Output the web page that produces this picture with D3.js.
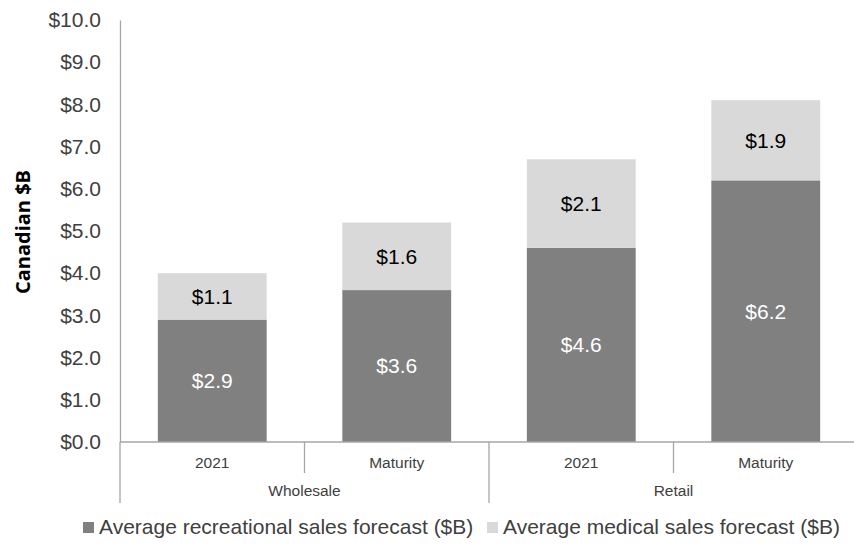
<!DOCTYPE html>
<html>
<head>
<meta charset="utf-8">
<script src="https://cdn.jsdelivr.net/npm/d3@7"></script>
<style>
  body { margin: 0; background: #fff; }
  svg { display: block; }
</style>
</head>
<body>
<svg id="chart" width="854" height="546"></svg>
<script>
// Forecast data (Canadian $B)
const groups = ["Wholesale", "Retail"];
const periods = ["2021", "Maturity"];
const categories = ["Wholesale|2021", "Wholesale|Maturity", "Retail|2021", "Retail|Maturity"];
const recreational = [2.9, 3.6, 4.6, 6.2];
const medical = [1.1, 1.6, 2.1, 1.9];
const seriesNames = ["Average recreational sales forecast ($B)", "Average medical sales forecast ($B)"];
const yTicks = [0, 1, 2, 3, 4, 5, 6, 7, 8, 9, 10];

const colors = ["#808080", "#d9d9d9"];
const font = "'Liberation Sans', Arial, sans-serif";
const textColor = "#404040";

const svg = d3.select("#chart");
const plotLeft = 120, plotRight = 858, plotTop = 20, plotBottom = 442;

const x = d3.scaleBand().domain(categories).range([plotLeft, plotRight]).paddingInner(0).paddingOuter(0);
const y = d3.scaleLinear().domain([0, 10]).range([plotBottom, plotTop]);
const barW = x.bandwidth() * 0.59;

const rows = categories.map((c, i) => ({ cat: c, recreational: recreational[i], medical: medical[i] }));
const stack = d3.stack().keys(["recreational", "medical"])(rows);

// Bars with value labels
stack.forEach((layer, li) => {
  svg.append("g").selectAll("rect").data(layer).join("rect")
    .attr("x", d => x(d.data.cat) + (x.bandwidth() - barW) / 2)
    .attr("width", barW)
    .attr("y", d => y(d[1]))
    .attr("height", d => y(d[0]) - y(d[1]))
    .attr("fill", colors[li]);
  svg.append("g").selectAll("text").data(layer).join("text")
    .attr("x", d => x(d.data.cat) + x.bandwidth() / 2)
    .attr("y", d => (y(d[0]) + y(d[1])) / 2)
    .attr("dy", "0.35em")
    .attr("text-anchor", "middle")
    .attr("font-family", font)
    .attr("font-size", 21)
    .attr("fill", li === 0 ? "#ffffff" : "#000000")
    .text(d => "$" + (d[1] - d[0]).toFixed(1));
});

// Y axis
const yAxis = d3.axisLeft(y).tickValues(yTicks).tickSize(0).tickPadding(19)
  .tickFormat(d => "$" + d3.format(".1f")(d));
const yg = svg.append("g").attr("transform", `translate(${plotLeft},0)`).call(yAxis);
yg.select(".domain").attr("stroke", "#a6a6a6").attr("stroke-width", 1.3);
yg.selectAll("text").attr("font-family", font).attr("font-size", 21).attr("fill", textColor);

// Y title
svg.append("text")
  .attr("transform", `translate(30,232) rotate(-90)`)
  .attr("text-anchor", "middle")
  .attr("font-family", "'Open Sans', 'Liberation Sans', sans-serif")
  .attr("font-weight", "bold")
  .attr("font-size", 20)
  .attr("fill", "#000")
  .text("Canadian $B");

// X axis: baseline, dividers and two-level labels
const axisColor = "#a6a6a6";
svg.append("line").attr("x1", plotLeft).attr("x2", plotRight).attr("y1", plotBottom).attr("y2", plotBottom)
  .attr("stroke", axisColor).attr("stroke-width", 1.3);

categories.forEach((c, i) => {
  const isGroupStart = i % periods.length === 0;
  svg.append("line")
    .attr("x1", x(c)).attr("x2", x(c))
    .attr("y1", plotBottom).attr("y2", isGroupStart ? 503 : 473)
    .attr("stroke", axisColor).attr("stroke-width", 1.3);
  svg.append("text")
    .attr("x", x(c) + x.bandwidth() / 2).attr("y", 463).attr("dy", "0.35em")
    .attr("text-anchor", "middle")
    .attr("font-family", font).attr("font-size", 15.5).attr("fill", textColor)
    .text(c.split("|")[1]);
});

groups.forEach((g, gi) => {
  const first = categories[gi * periods.length];
  const cx = x(first) + x.bandwidth() * periods.length / 2;
  svg.append("text")
    .attr("x", cx).attr("y", 491).attr("dy", "0.35em")
    .attr("text-anchor", "middle")
    .attr("font-family", font).attr("font-size", 15.5).attr("fill", textColor)
    .text(g);
});

// Legend
const legendX = [83, 487];
seriesNames.forEach((name, i) => {
  svg.append("rect").attr("x", legendX[i]).attr("y", 522).attr("width", 11).attr("height", 11)
    .attr("fill", colors[i]);
  svg.append("text").attr("x", legendX[i] + 16).attr("y", 527).attr("dy", "0.35em")
    .attr("font-family", font).attr("font-size", 21).attr("fill", textColor)
    .text(name);
});
</script>
</body>
</html>
